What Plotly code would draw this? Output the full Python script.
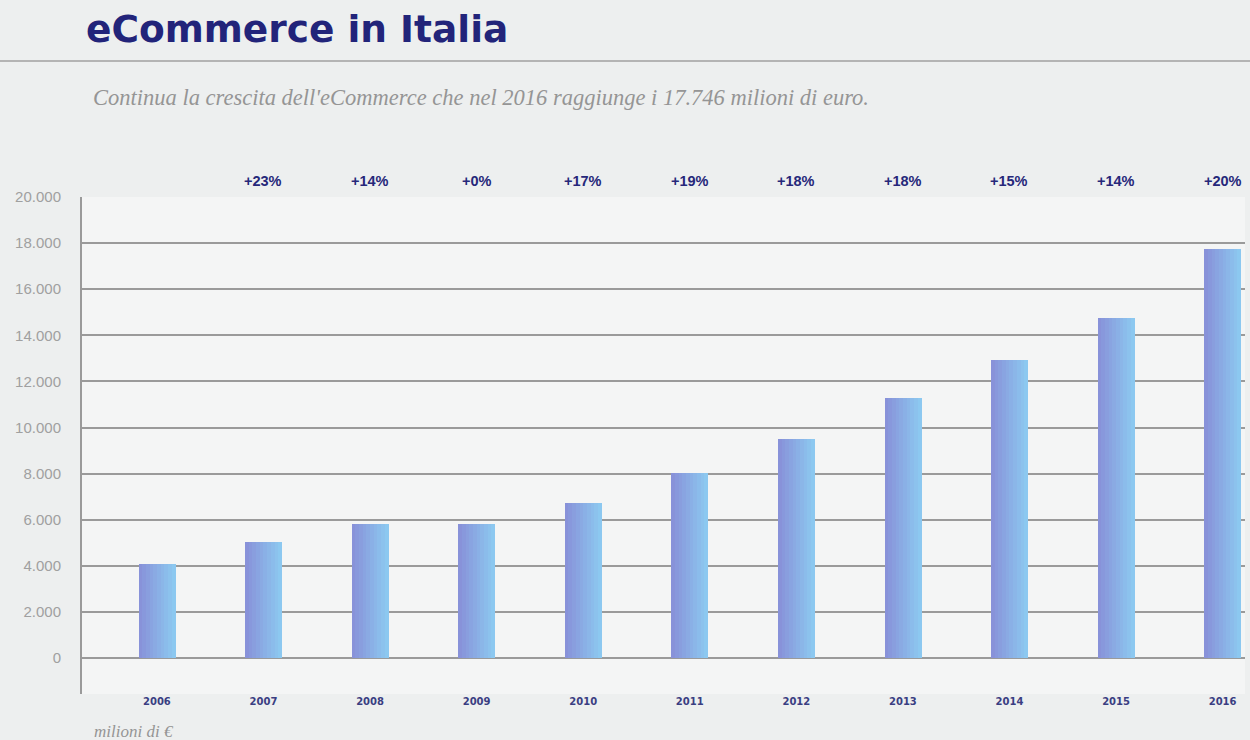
import plotly.graph_objects as go

years = [2006, 2007, 2008, 2009, 2010, 2011, 2012, 2013, 2014, 2015, 2016]
values = [4070, 5030, 5810, 5810, 6740, 8040, 9520, 11300, 12930, 14760, 17746]
growth_years = [2007, 2008, 2009, 2010, 2011, 2012, 2013, 2014, 2015, 2016]
growth_labels = ["+23%", "+14%", "+0%", "+17%", "+19%", "+18%", "+18%", "+15%", "+14%", "+20%"]
y_ticks = [0, 2000, 4000, 6000, 8000, 10000, 12000, 14000, 16000, 18000, 20000]
y_tick_text = ["0", "2.000", "4.000", "6.000", "8.000", "10.000", "12.000",
               "14.000", "16.000", "18.000", "20.000"]

title_text = "eCommerce in Italia"
subtitle_text = "Continua la crescita dell'eCommerce che nel 2016 raggiunge i 17.746 milioni di euro."
unit_text = "milioni di €"

NAVY = "#26287a"
GRID = "#9a9a9a"

W, H = 1250, 740
ML, MR, MT, MB = 82, 5, 197, 46
PW, PH = W - ML - MR, H - MT - MB


def px(x):
    return (x - ML) / PW


def py(y):
    return 1 - (y - MT) / PH


fig = go.Figure()

# gradient-like bars: several overlaid strips from purple-blue to light blue
n_strips = 10
bar_w = 0.345
c0 = (136, 146, 217)
c1 = (140, 200, 240)
for k in range(n_strips):
    t = k / (n_strips - 1)
    col = "rgb(%d,%d,%d)" % tuple(round(a + (b - a) * t) for a, b in zip(c0, c1))
    fig.add_trace(go.Bar(
        x=years, y=values,
        width=bar_w / n_strips + 0.002,
        offset=-bar_w / 2 + k * bar_w / n_strips,
        marker=dict(color=col, line=dict(width=0)),
        hoverinfo="skip" if k else "x+y",
        showlegend=False,
    ))

for gy, gl in zip(growth_years, growth_labels):
    fig.add_annotation(x=gy, y=1, xref="x", yref="paper", yanchor="bottom",
                       yshift=6, text="<b>%s</b>" % gl, showarrow=False,
                       font=dict(family="Liberation Sans, Arial", size=14.5, color=NAVY))

fig.update_layout(
    width=W, height=H,
    margin=dict(l=ML, r=MR, t=MT, b=MB),
    paper_bgcolor="#edefef",
    plot_bgcolor="#f4f5f5",
    barmode="overlay",
    bargap=0,
    separators=",.",
    xaxis=dict(
        range=[2005.297, 2016.21],
        tickvals=years,
        ticktext=["<b>%d</b>" % y for y in years],
        showgrid=False, zeroline=False, showline=False,
        ticks="", tickfont=dict(family="DejaVu Sans", size=10, color="#3a3e82"),
        fixedrange=True,
    ),
    yaxis=dict(
        range=[-1560, 20000],
        tickvals=y_ticks, ticktext=y_tick_text,
        showgrid=True, gridcolor=GRID, gridwidth=2,
        zeroline=False,
        showline=True, linecolor=GRID, linewidth=2,
        ticks="outside", ticklen=16, tickcolor="rgba(0,0,0,0)",
        tickfont=dict(family="Liberation Sans, Arial", size=15, color="#a0a0a0"),
        fixedrange=True,
    ),
    font=dict(family="Liberation Sans, Arial"),
)

# title
fig.add_annotation(x=px(84), y=py(29), xref="paper", yref="paper",
                   xanchor="left", yanchor="middle", showarrow=False,
                   text="<b>%s</b>" % title_text,
                   font=dict(family="DejaVu Sans", size=37.5, color="#22247a"))
# subtitle
fig.add_annotation(x=px(91), y=py(97), xref="paper", yref="paper",
                   xanchor="left", yanchor="middle", showarrow=False,
                   text="<i>%s</i>" % subtitle_text,
                   font=dict(family="Liberation Serif, Times New Roman", size=22.5, color="#959595"))
# unit label
fig.add_annotation(x=px(92), y=py(731), xref="paper", yref="paper",
                   xanchor="left", yanchor="middle", showarrow=False,
                   text="<i>%s</i>" % unit_text,
                   font=dict(family="Liberation Serif, Times New Roman", size=17, color="#959595"))

# separator line under title
fig.add_shape(type="line", xref="paper", yref="paper",
              x0=px(0), x1=px(W), y0=py(61), y1=py(61),
              line=dict(color="#b4b4b4", width=2))

fig.write_html("out.html")
